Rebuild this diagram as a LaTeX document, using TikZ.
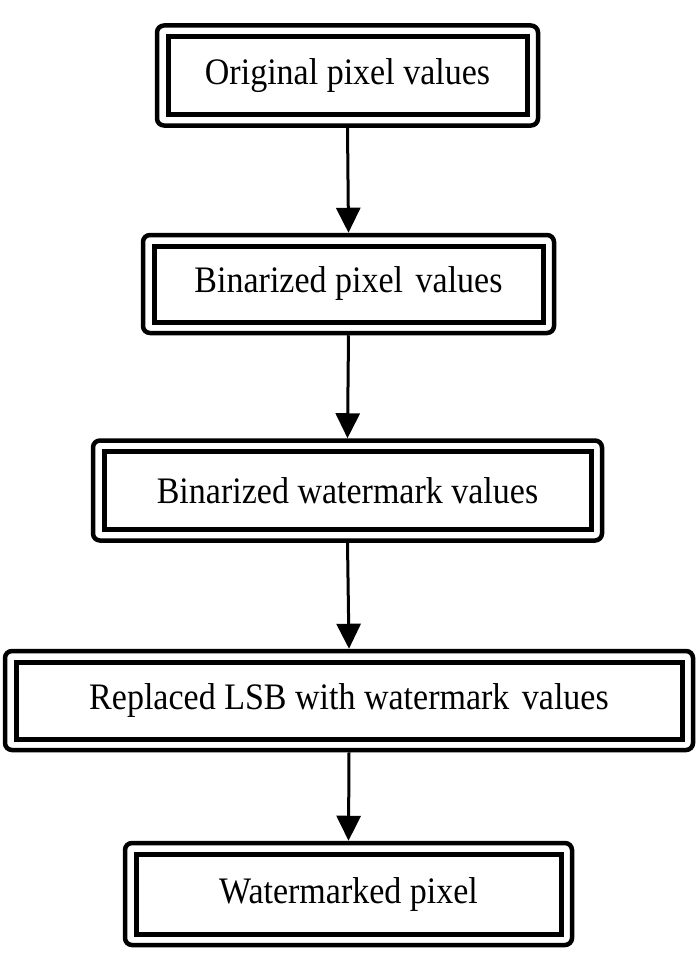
\documentclass[tikz,border=0pt]{standalone}
\usepackage{fontspec}
\usepackage{graphicx}
\setmainfont{Liberation Serif}
\usetikzlibrary{arrows.meta}
\newcommand{\tallt}[1]{\scalebox{1}[1.1]{#1}}
\tikzset{
  outerbox/.style={draw, line width=4.5pt, rounded corners=7pt, inner sep=0pt, fill=white},
  innerbox/.style={draw, line width=5pt, inner sep=0pt, font=\fontsize{34}{40}\selectfont},
  arr/.style={line width=3pt, -{Triangle[length=25pt,width=24pt]}}
}
\begin{document}
\begin{tikzpicture}[x=1pt,y=-1pt]
\useasboundingbox (0,0) rectangle (697,966);
\node[outerbox, minimum width=381pt, minimum height=100pt] (b1) at (347.5,75.5) {};
\node[innerbox, minimum width=359pt, minimum height=78pt] (t1) at (b1.center) {\tallt{Original pixel values}};
\node[outerbox, minimum width=411pt, minimum height=98pt] (b2) at (348.5,284) {};
\node[innerbox, minimum width=389pt, minimum height=76pt] (t2) at (b2.center) {\tallt{Binarized pixel\hspace{4pt} values}};
\node[outerbox, minimum width=509pt, minimum height=100pt] (b3) at (347.5,490.5) {};
\node[innerbox, minimum width=487pt, minimum height=78pt] (t3) at (b3.center) {\tallt{Binarized watermark values}};
\node[outerbox, minimum width=688pt, minimum height=99pt] (b4) at (349,700.5) {};
\node[innerbox, minimum width=666pt, minimum height=77pt] (t4) at (b4.center) {\tallt{Replaced LSB with watermark\hspace{4pt} values}};
\node[outerbox, minimum width=447pt, minimum height=102pt] (b5) at (348.5,894) {};
\node[innerbox, minimum width=425pt, minimum height=80pt] (t5) at (b5.center) {\tallt{Watermarked pixel}};
\draw[arr] (b1.south) -- (b2.north);
\draw[arr] (b2.south) -- (b3.north);
\draw[arr] (b3.south) -- (b4.north);
\draw[arr] (b4.south) -- (b5.north);
\end{tikzpicture}
\end{document}
